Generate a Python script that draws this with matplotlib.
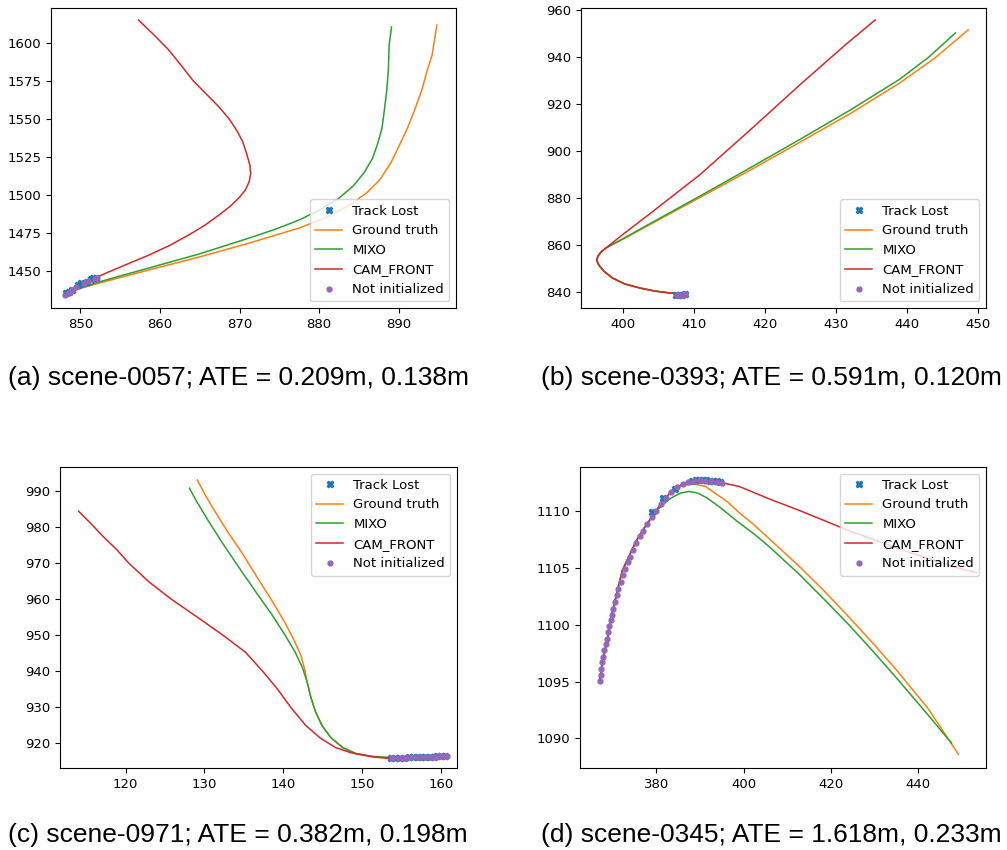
from matplotlib import pyplot as plt

# ---- scene-0057 ----
a_gt_x = [848.3, 852.3, 858.6, 864.9, 871.2, 877.5, 881.0, 883.8, 886.0, 887.6, 889.0, 890.1, 891.1, 892.0,
          892.9, 893.6, 894.2, 894.5, 894.8]
a_gt_y = [1436.0, 1442.0, 1450.7, 1459.2, 1468.4, 1478.3, 1485.5, 1493.4, 1501.5, 1509.9, 1521.0, 1532.9,
          1544.0, 1555.9, 1569.0, 1582.2, 1592.0, 1602.0, 1611.8]
a_mixo_x = [848.3, 852.3, 858.6, 864.9, 871.2, 874.5, 877.5, 880.2, 882.5, 884.3, 885.7, 886.7, 887.3, 887.9,
            888.2, 888.5, 888.7, 888.8, 889.1]
a_mixo_y = [1436.0, 1442.8, 1452.0, 1461.2, 1471.7, 1477.5, 1483.6, 1490.5, 1498.0, 1506.0, 1515.1, 1524.0,
            1532.9, 1544.0, 1555.9, 1569.0, 1582.2, 1598.7, 1610.5]
a_cam_x = [848.3, 849.5, 851.0, 853.5, 856.0, 858.6, 861.2, 863.6, 865.6, 867.4, 868.8, 869.9, 870.7, 871.2,
           871.4, 871.3, 870.9, 870.4, 869.7, 868.7, 867.4, 865.9, 864.2, 862.7, 861.1, 859.3, 857.3]
a_cam_y = [1436.0, 1439.5, 1443.5, 1449.3, 1454.8, 1460.5, 1466.8, 1473.7, 1480.0, 1486.8, 1492.5, 1498.0,
           1503.0, 1508.6, 1514.0, 1519.5, 1527.0, 1535.0, 1542.0, 1550.0, 1558.0, 1566.0, 1575.0, 1585.0,
           1595.4, 1605.0, 1615.1]
a_lost_x = [848.2, 848.6, 848.9, 849.7, 850.1, 850.8, 851.3, 851.6, 852.0]
a_lost_y = [1435.5, 1436.2, 1437.5, 1440.8, 1442.1, 1442.8, 1444.7, 1445.4, 1445.4]
a_init_x = [848.1, 848.5, 848.9, 849.4, 850.4, 851.0, 851.8, 852.1]
a_init_y = [1434.2, 1435.5, 1437.5, 1439.5, 1442.1, 1443.4, 1444.7, 1445.4]

# ---- scene-0393 ----
b_nose_x = [408.6, 406.6, 404.5, 402.4, 400.3, 398.5, 397.3, 396.6, 396.3, 396.5, 396.9, 397.6]
b_nose_y = [839.1, 839.6, 840.4, 841.7, 843.4, 846.0, 848.9, 851.5, 853.6, 855.3, 857.0, 858.7]
b_gt_x = b_nose_x + [399.6, 405.2, 410.9, 417.9, 424.9, 432.0, 439.0, 443.9, 448.6]
b_gt_y = b_nose_y + [861.8, 871.0, 880.3, 891.8, 903.7, 915.9, 929.0, 939.5, 951.5]
b_mixo_x = b_nose_x + [399.6, 405.2, 410.9, 417.9, 424.9, 432.0, 439.0, 443.0, 446.8]
b_mixo_y = b_nose_y + [862.0, 871.4, 880.9, 892.8, 904.9, 917.4, 930.6, 939.8, 950.2]
b_cam_x = b_nose_x + [400.0, 403.8, 410.8, 417.9, 424.9, 431.3, 435.5]
b_cam_y = b_nose_y + [864.5, 873.3, 889.8, 908.9, 928.1, 945.1, 955.7]
b_lost_x = [407.5, 407.9, 408.3, 408.7]
b_lost_y = [838.7, 838.8, 838.9, 839.0]
b_init_x = [407.6, 408.0, 408.4, 408.8]
b_init_y = [838.7, 838.8, 838.9, 839.0]

# ---- scene-0971 ----
c_tail_x = [143.0, 143.5, 144.1, 144.9, 146.0, 147.5, 149.2, 151.3, 153.5, 156.5, 160.5]
c_tail_y = [937.0, 932.5, 928.5, 924.8, 921.5, 918.7, 917.0, 916.2, 915.9, 916.0, 916.3]
c_gt_x = [129.1, 130.1, 131.4, 133.0, 134.8, 136.8, 138.6, 140.1, 141.3, 142.2, 142.7] + c_tail_x
c_gt_y = [993.1, 988.9, 984.1, 978.5, 972.7, 965.6, 959.4, 953.8, 948.8, 944.4, 940.5] + c_tail_y
c_mixo_x = [128.1, 129.1, 130.5, 132.3, 134.3, 136.5, 138.5, 140.2, 141.5, 142.4] + c_tail_x
c_mixo_y = [990.8, 986.8, 981.7, 975.5, 969.0, 962.0, 955.8, 950.0, 945.2, 941.0] + c_tail_y
c_cam_x = [114.05, 115.6, 117.2, 118.9, 120.4, 122.9, 125.7, 129.0, 132.3, 135.2, 137.3, 139.2, 140.9, 142.8,
           144.7, 146.6, 148.5, 151.0, 153.5, 156.5, 160.5]
c_cam_y = [984.4, 981.0, 977.3, 973.7, 970.0, 964.9, 960.1, 955.1, 950.0, 945.2, 940.1, 935.1, 930.0, 924.9,
           921.3, 918.7, 917.3, 916.2, 915.6, 915.9, 916.3]
c_lost_x = [153.6, 154.2, 154.8, 155.3, 155.9, 156.4, 157.0, 157.5, 158.0, 158.6, 159.1, 159.5, 160.0, 160.5]
c_lost_y = [915.9, 915.9, 915.9, 915.9, 916.0, 916.0, 916.0, 916.0, 916.0, 916.1, 916.1, 916.2, 916.2, 916.3]
c_init_x = [153.8, 154.5, 155.1, 155.7, 156.2, 156.8, 157.3, 157.9, 158.4, 158.9, 159.4, 159.9, 160.4, 160.7]
c_init_y = [915.9, 915.9, 915.9, 915.9, 916.0, 916.0, 916.0, 916.0, 916.0, 916.1, 916.1, 916.2, 916.2, 916.3]

# ---- scene-0345 ----
d_rise_x = [367.0, 367.6, 368.6, 370.0, 372.2, 375.4, 377.5, 379.5]
d_rise_y = [1095.1, 1096.7, 1098.4, 1101.3, 1104.8, 1107.4, 1108.7, 1109.8]
d_gt_x = d_rise_x + [381.5, 383.7, 386.0, 388.6, 391.2, 393.8, 396.4, 398.9, 402.4, 405.8, 409.2, 412.6, 418.4,
                     424.1, 429.8, 435.5, 442.3, 449.2]
d_gt_y = d_rise_y + [1110.9, 1111.8, 1112.3, 1112.4, 1112.2, 1111.5, 1110.8, 1109.9, 1108.8, 1107.6, 1106.4,
                     1105.2, 1103.0, 1100.7, 1098.3, 1095.8, 1092.6, 1088.6]
d_mixo_x = d_rise_x + [381.5, 383.5, 385.5, 387.5, 389.5, 391.5, 394.4, 398.9, 402.4, 405.8, 409.2, 412.6, 418.3,
                       424.1, 429.8, 435.5, 441.5, 447.6]
d_mixo_y = d_rise_y + [1110.6, 1111.2, 1111.6, 1111.75, 1111.6, 1111.2, 1110.4, 1109.0, 1108.0, 1106.9, 1105.7,
                       1104.5, 1102.3, 1100.0, 1097.6, 1095.1, 1092.4, 1089.6]
d_cam_x = d_rise_x + [381.5, 383.7, 386.0, 388.6, 391.4, 395.1, 398.9, 405.8, 412.6, 424.1, 435.5, 449.2, 453.3]
d_cam_y = d_rise_y + [1110.9, 1111.9, 1112.4, 1112.7, 1112.7, 1112.5, 1112.2, 1111.1, 1110.1, 1108.3, 1106.7,
                      1105.0, 1104.6]
d_lost_x = [379.1, 381.4, 384.3, 388.2, 389.0, 389.8, 390.6, 391.4, 392.2, 393.0, 393.8, 394.6]
d_lost_y = [1109.9, 1111.2, 1112.0, 1112.7, 1112.75, 1112.75, 1112.75, 1112.75, 1112.7, 1112.7, 1112.65, 1112.6]
d_init_x = [367.0, 367.2, 367.4, 367.6, 367.8, 368.1, 368.4, 368.6, 368.9, 369.2, 369.5, 369.8, 370.1, 370.5,
            370.9, 371.3, 371.8, 372.3, 372.8, 373.4, 374.0, 374.7, 375.4, 376.2, 377.0, 377.9, 378.9, 379.9,
            381.0, 382.2, 383.4, 384.7, 386.0, 387.3, 388.6, 389.9, 391.2, 392.5, 393.8, 395.1]
d_init_y = [1095.1, 1095.6, 1096.1, 1096.7, 1097.2, 1097.8, 1098.3, 1098.8, 1099.4, 1099.9, 1100.4, 1100.9,
            1101.4, 1102.0, 1102.6, 1103.2, 1103.8, 1104.4, 1104.9, 1105.5, 1106.0, 1106.6, 1107.2, 1107.8,
            1108.3, 1108.9, 1109.5, 1110.0, 1110.6, 1111.2, 1111.7, 1112.1, 1112.4, 1112.6, 1112.7, 1112.75,
            1112.7, 1112.7, 1112.6, 1112.5]

captions = ["(a) scene-0057; ATE = 0.209m, 0.138m",
            "(b) scene-0393; ATE = 0.591m, 0.120m",
            "(c) scene-0971; ATE = 0.382m, 0.198m",
            "(d) scene-0345; ATE = 1.618m, 0.233m"]


def px_box(left, top, right, bottom, W=1007, H=850):
    # pixel frame -> figure fraction
    return [left / W, 1 - bottom / H, (right - left) / W, (bottom - top) / H]


def draw_scene(ax, gt, mixo, cam, lost, init, xlim, ylim, loc):
    ax.plot(*lost, 'X', color='C0', ms=5, ls='none', label='Track Lost', zorder=3)
    ax.plot(*gt, color='C1', lw=1.1, label='Ground truth', zorder=2)
    ax.plot(*mixo, color='C2', lw=1.1, label='MIXO', zorder=2)
    ax.plot(*cam, color='C3', lw=1.1, label='CAM_FRONT', zorder=2)
    ax.plot(*init, '.', color='C4', ms=7, ls='none', label='Not initialized', zorder=4)
    ax.set_xlim(*xlim)
    ax.set_ylim(*ylim)
    ax.tick_params(labelsize=9.5)
    ax.legend(loc=loc, fontsize=9.5)


fig = plt.figure(figsize=(10.07, 8.5), dpi=100)

ax_a = fig.add_axes(px_box(51, 8, 456, 308))
draw_scene(ax_a, (a_gt_x, a_gt_y), (a_mixo_x, a_mixo_y), (a_cam_x, a_cam_y),
           (a_lost_x, a_lost_y), (a_init_x, a_init_y), (846.3, 897.2), (1425.7, 1623), 'lower right')

ax_b = fig.add_axes(px_box(581, 8, 986, 308))
draw_scene(ax_b, (b_gt_x, b_gt_y), (b_mixo_x, b_mixo_y), (b_cam_x, b_cam_y),
           (b_lost_x, b_lost_y), (b_init_x, b_init_y), (394.1, 451.1), (833.2, 960.8), 'lower right')

ax_c = fig.add_axes(px_box(60, 467, 457, 768))
draw_scene(ax_c, (c_gt_x, c_gt_y), (c_mixo_x, c_mixo_y), (c_cam_x, c_cam_y),
           (c_lost_x, c_lost_y), (c_init_x, c_init_y), (111.7, 162.0), (913.0, 996.7), 'upper right')

ax_d = fig.add_axes(px_box(580, 467, 986, 768))
draw_scene(ax_d, (d_gt_x, d_gt_y), (d_mixo_x, d_mixo_y), (d_cam_x, d_cam_y),
           (d_lost_x, d_lost_y), (d_init_x, d_init_y), (362.5, 455.5), (1087.4, 1113.9), 'upper right')

cap_font = ['Liberation Sans', 'DejaVu Sans']
fig.text(238 / 1007, 1 - 378 / 850, captions[0], fontsize=19, family=cap_font, va='center', ha='center')
fig.text(771 / 1007, 1 - 378 / 850, captions[1], fontsize=19, family=cap_font, va='center', ha='center')
fig.text(238 / 1007, 1 - 835 / 850, captions[2], fontsize=19, family=cap_font, va='center', ha='center')
fig.text(771 / 1007, 1 - 835 / 850, captions[3], fontsize=19, family=cap_font, va='center', ha='center')

fig.savefig('out.png', dpi=100)
